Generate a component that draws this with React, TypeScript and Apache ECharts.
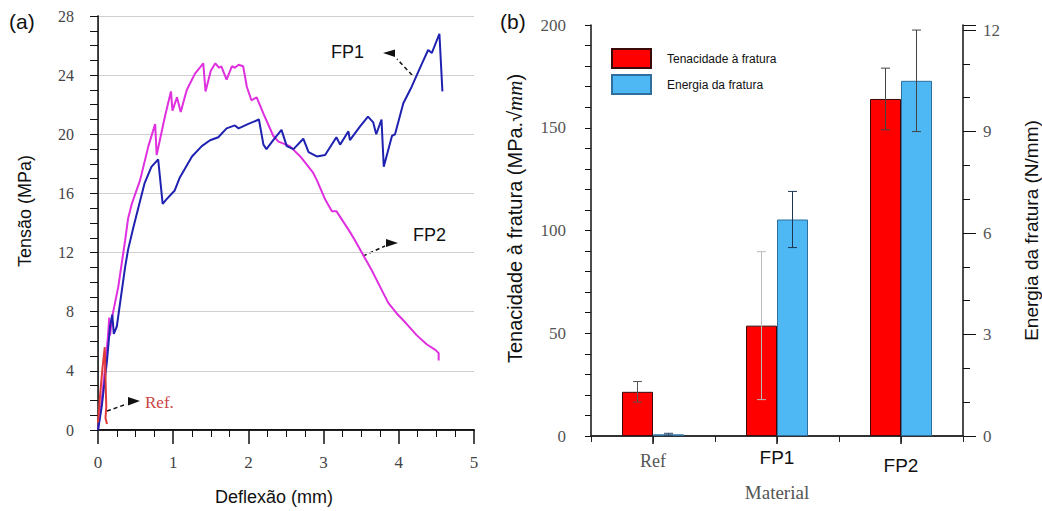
import React, { useEffect, useRef } from "react";
import * as echarts from "echarts";

// ---------- Panel (a): Tensão x Deflexão ----------
const fp1Deflexao = [0, 0.05, 0.12, 0.16, 0.19, 0.21, 0.25, 0.36, 0.4, 0.47, 0.56, 0.62, 0.71, 0.8, 0.86, 0.91, 1.02, 1.09, 1.25, 1.38, 1.49, 1.6, 1.71, 1.82, 1.87, 2.0, 2.14, 2.2, 2.24, 2.33, 2.44, 2.51, 2.6, 2.73, 2.8, 2.91, 3.02, 3.17, 3.22, 3.33, 3.35, 3.48, 3.59, 3.66, 3.7, 3.77, 3.8, 3.91, 3.95, 4.06, 4.17, 4.3, 4.39, 4.44, 4.54, 4.58];
const fp1Tensao = [0, 1.6, 4.7, 7.0, 7.8, 6.5, 7.0, 11.0, 12.2, 13.7, 15.5, 16.7, 17.8, 18.3, 15.3, 15.6, 16.2, 17.1, 18.5, 19.2, 19.6, 19.8, 20.4, 20.6, 20.4, 20.7, 21.0, 19.3, 19.0, 19.6, 20.3, 19.2, 19.0, 19.7, 18.8, 18.5, 18.6, 19.8, 19.3, 20.2, 19.6, 20.5, 21.2, 20.8, 20.0, 21.0, 17.8, 19.9, 20.0, 22.1, 23.2, 24.7, 25.7, 25.5, 26.8, 22.9];

const fp2Deflexao = [0, 0.05, 0.1, 0.13, 0.15, 0.16, 0.19, 0.27, 0.36, 0.4, 0.45, 0.56, 0.67, 0.76, 0.78, 0.89, 0.97, 0.99, 1.05, 1.1, 1.18, 1.29, 1.4, 1.43, 1.5, 1.56, 1.61, 1.64, 1.71, 1.78, 1.82, 1.87, 1.93, 1.98, 2.04, 2.11, 2.2, 2.33, 2.4, 2.55, 2.69, 2.86, 2.91, 3.02, 3.11, 3.17, 3.35, 3.42, 3.53, 3.64, 3.75, 3.86, 3.97, 4.1, 4.24, 4.37, 4.49, 4.53, 4.53];
const fp2Tensao = [0, 2.0, 4.5, 6.2, 7.6, 6.4, 7.7, 9.7, 12.8, 14.3, 15.3, 16.9, 19.2, 20.7, 18.6, 21.2, 22.9, 21.6, 22.5, 21.5, 23.0, 24.1, 24.8, 22.9, 24.3, 24.8, 24.5, 24.6, 23.7, 24.6, 24.5, 24.7, 24.6, 23.2, 22.3, 22.5, 21.4, 19.9, 19.5, 19.2, 18.5, 17.4, 16.9, 15.6, 14.8, 14.8, 13.4, 12.8, 11.8, 10.8, 9.7, 8.6, 7.9, 7.2, 6.4, 5.8, 5.4, 5.2, 4.7];

const refDeflexao = [0, 0.03, 0.06, 0.09, 0.1, 0.11, 0.1, 0.12];
const refTensao = [0.5, 2.5, 4.2, 5.6, 3.5, 1.6, 0.8, 0.4];

// ---------- Panel (b): bars ----------
const materiais = ["Ref", "FP1", "FP2"];
const tenacidade = [21.5, 53.7, 164];
const tenacidadeErro = [5, 36, 15];
const energia = [0.05, 6.4, 10.5];
const energiaErro = [0.03, 0.83, 1.5];

const zip = (xs: number[], ys: number[]) => xs.map((x, i) => [x, ys[i]]);

const SANS = "Liberation Sans";
const SERIF = "Liberation Serif";

function errorBarSeries(values: number[], errors: number[], yAxisIndex: number, side: number, colors: string[]) {
  return {
    type: "custom",
    xAxisIndex: 2,
    yAxisIndex,
    z: 10,
    encode: { x: 0, y: [1, 2] },
    data: values.map((v, i) => [i, v - errors[i], v + errors[i]]),
    renderItem: (params: any, api: any) => {
      const idx = api.value(0);
      const lo = api.coord([idx, api.value(1)]);
      const hi = api.coord([idx, api.value(2)]);
      const band = api.size([1, 0])[0];
      const x = lo[0] + side * band * 0.125;
      const cap = 4.5;
      const style = { stroke: colors[params.dataIndex], lineWidth: 1 };
      return {
        type: "group",
        children: [
          { type: "line", shape: { x1: x, y1: lo[1], x2: x, y2: hi[1] }, style },
          { type: "line", shape: { x1: x - cap, y1: hi[1], x2: x + cap, y2: hi[1] }, style },
          { type: "line", shape: { x1: x - cap, y1: lo[1], x2: x + cap, y2: lo[1] }, style },
        ],
      };
    },
  };
}

export default function App() {
  const ref = useRef<HTMLDivElement>(null);

  useEffect(() => {
    if (!ref.current) return;
    const chart = echarts.init(ref.current, null, { renderer: "svg" });

    const option: any = {
      animation: false,
      backgroundColor: "#ffffff",
      grid: [
        { left: 98, top: 16, width: 376, height: 414 },
        { left: 591, top: 25, width: 374, height: 411 },
      ],
      legend: {
        data: ["Tenacidade à fratura", "Energia da fratura"],
        orient: "vertical",
        left: 611,
        top: 48,
        padding: 0,
        itemWidth: 39,
        itemHeight: 19,
        itemGap: 5,
        icon: "rect",
        textStyle: { fontSize: 12, fontFamily: SANS, color: "#111", padding: [0, 0, 0, 11] },
      },
      xAxis: [
        {
          gridIndex: 0,
          type: "value",
          min: 0,
          max: 5,
          interval: 1,
          axisLine: { show: true, lineStyle: { color: "#111", width: 2 } },
          axisTick: { show: true, length: 14, lineStyle: { color: "#111", width: 1.5 } },
          minorTick: { show: true, splitNumber: 4, length: 7, lineStyle: { color: "#111" } },
          axisLabel: { margin: 24, fontSize: 17, fontFamily: SERIF, color: "#444" },
          splitLine: { show: false },
          name: "Deflexão (mm)",
          nameLocation: "middle",
          nameGap: 58,
          nameTextStyle: { fontSize: 18, fontFamily: SANS, color: "#111", padding: [0, 24, 0, 0] },
        },
        {
          gridIndex: 0,
          type: "value",
          position: "top",
          min: 0,
          max: 5,
          axisLine: { show: true, lineStyle: { color: "#222", width: 1 } },
          axisTick: { show: false },
          axisLabel: { show: false },
          splitLine: { show: false },
        },
        {
          gridIndex: 1,
          type: "category",
          data: materiais,
          position: "bottom",
          axisLine: { show: true, lineStyle: { color: "#333", width: 1.5 } },
          axisTick: { show: true, alignWithLabel: true, length: 8, lineStyle: { color: "#111", width: 1.5 } },
          axisLabel: {
            margin: 12,
            formatter: (v: string) => (v === "Ref" ? `{r|${v}}` : v === "FP1" ? `{a|${v}}` : `{b|${v}}`),
            rich: {
              r: { fontFamily: SERIF, fontSize: 18, color: "#555", padding: [4, 0, 0, 0] },
              a: { fontFamily: SANS, fontSize: 19, color: "#111" },
              b: { fontFamily: SANS, fontSize: 19, color: "#111", padding: [8, 0, 0, 0] },
            },
          },
          name: "Material",
          nameLocation: "middle",
          nameGap: 47,
          nameTextStyle: { fontFamily: SERIF, fontSize: 19, color: "#555" },
        },
        {
          gridIndex: 1,
          type: "value",
          position: "top",
          min: 0,
          max: 3,
          interval: 0.5,
          axisLine: { show: true, lineStyle: { color: "#222", width: 1.5 } },
          axisTick: { show: true, inside: true, length: 6, lineStyle: { color: "#222" } },
          axisLabel: { show: false },
          splitLine: { show: false },
        },
      ],
      yAxis: [
        {
          gridIndex: 0,
          type: "value",
          min: 0,
          max: 28,
          interval: 4,
          axisLine: { show: true, lineStyle: { color: "#111", width: 1.5 } },
          axisTick: { show: true, length: 8, lineStyle: { color: "#111" } },
          minorTick: { show: true, splitNumber: 4, length: 8, lineStyle: { color: "#111" } },
          axisLabel: { margin: 24, fontSize: 16, fontFamily: SERIF, color: "#444" },
          splitLine: { show: true, lineStyle: { color: "#cfcfcf", width: 1 } },
          name: "Tensão (MPa)",
          nameLocation: "middle",
          nameGap: 64,
          nameTextStyle: { fontSize: 18, fontFamily: SANS, color: "#111", padding: [0, 0, 0, 24] },
        },
        {
          gridIndex: 0,
          type: "value",
          position: "right",
          min: 0,
          max: 28,
          axisLine: { show: true, lineStyle: { color: "#333", width: 1 } },
          axisTick: { show: false },
          axisLabel: { show: false },
          splitLine: { show: false },
        },
        {
          gridIndex: 1,
          type: "value",
          position: "left",
          min: 0,
          max: 200,
          interval: 50,
          axisLine: { show: true, lineStyle: { color: "#111", width: 1.5 } },
          axisTick: { show: true, length: 6, lineStyle: { color: "#111" } },
          minorTick: { show: true, splitNumber: 5, length: 6, lineStyle: { color: "#111" } },
          axisLabel: { margin: 25, fontSize: 17, fontFamily: SERIF, color: "#555" },
          splitLine: { show: false },
          name: "{a|Tenacidade à fratura (MPa.√}{b|mm}{a|)}",
          nameLocation: "middle",
          nameGap: 66,
          nameTextStyle: {
            padding: [0, 0, 0, 24],
            rich: {
              a: { fontSize: 20, fontFamily: SANS, color: "#111" },
              b: { fontSize: 21, fontFamily: SERIF, fontStyle: "italic", color: "#111" },
            },
          },
        },
        {
          gridIndex: 1,
          type: "value",
          position: "right",
          min: 0,
          max: 12.15,
          interval: 3,
          axisLine: { show: true, lineStyle: { color: "#111", width: 1.5 } },
          axisTick: { show: true, length: 13, lineStyle: { color: "#111" } },
          minorTick: { show: true, splitNumber: 3, length: 7, lineStyle: { color: "#111" } },
          axisLabel: { margin: 20, fontSize: 17, fontFamily: SERIF, color: "#555", showMaxLabel: false },
          splitLine: { show: false },
          name: "Energia da fratura (N/mm)",
          nameLocation: "middle",
          nameGap: 59,
          nameTextStyle: { fontSize: 19, fontFamily: SANS, color: "#111" },
        },
      ],
      series: [
        {
          type: "line",
          name: "FP2",
          xAxisIndex: 0,
          yAxisIndex: 0,
          data: zip(fp2Deflexao, fp2Tensao),
          showSymbol: false,
          lineStyle: { color: "#df2fdf", width: 2 },
          itemStyle: { color: "#df2fdf" },
        },
        {
          type: "line",
          name: "FP1",
          xAxisIndex: 0,
          yAxisIndex: 0,
          data: zip(fp1Deflexao, fp1Tensao),
          showSymbol: false,
          lineStyle: { color: "#1f22b0", width: 2 },
          itemStyle: { color: "#1f22b0" },
        },
        {
          type: "line",
          name: "Ref.",
          xAxisIndex: 0,
          yAxisIndex: 0,
          data: zip(refDeflexao, refTensao),
          showSymbol: false,
          lineStyle: { color: "#e03a3a", width: 2 },
          itemStyle: { color: "#e03a3a" },
        },
        {
          type: "bar",
          name: "Tenacidade à fratura",
          xAxisIndex: 2,
          yAxisIndex: 2,
          data: tenacidade,
          barWidth: "25%",
          barGap: "0%",
          itemStyle: { color: "#ff0000", borderColor: "#3a0a0a", borderWidth: 1 },
        },
        {
          type: "bar",
          name: "Energia da fratura",
          xAxisIndex: 2,
          yAxisIndex: 3,
          data: energia,
          barWidth: "25%",
          barGap: "0%",
          itemStyle: { color: "#4db8f4", borderColor: "#2f6f9f", borderWidth: 1 },
        },
        errorBarSeries(tenacidade, tenacidadeErro, 2, -1, ["#555", "#bbbbbb", "#444"]),
        errorBarSeries(energia, energiaErro, 3, 1, ["#2a4a6a", "#1f3550", "#444"]),
      ],
      graphic: [
        { type: "text", x: 9, y: 21, style: { text: "(a)", fontSize: 21, fontFamily: SANS, fill: "#111", verticalAlign: "middle" } },
        { type: "text", x: 500, y: 21, style: { text: "(b)", fontSize: 21, fontFamily: SANS, fill: "#111", verticalAlign: "middle" } },
        { type: "text", x: 331, y: 52, style: { text: "FP1", fontSize: 18, fontFamily: SANS, fill: "#111", verticalAlign: "middle" } },
        { type: "text", x: 413, y: 235, style: { text: "FP2", fontSize: 18, fontFamily: SANS, fill: "#111", verticalAlign: "middle" } },
        { type: "text", x: 145, y: 402, style: { text: "Ref.", fontSize: 17, fontFamily: SERIF, fill: "#cc4444", verticalAlign: "middle" } },
        { type: "line", shape: { x1: 412, y1: 75, x2: 397, y2: 59 }, style: { stroke: "#111", lineWidth: 1.5, lineDash: [4, 3] } },
        { type: "polygon", shape: { points: [[383, 53], [395, 49.5], [395, 57]] }, style: { fill: "#111" } },
        { type: "line", shape: { x1: 363, y1: 256, x2: 385, y2: 246 }, style: { stroke: "#111", lineWidth: 1.5, lineDash: [4, 3] } },
        { type: "polygon", shape: { points: [[398, 243], [386, 239], [386, 247]] }, style: { fill: "#111" } },
        { type: "line", shape: { x1: 107, y1: 411, x2: 127, y2: 404 }, style: { stroke: "#111", lineWidth: 1.5, lineDash: [4, 3] } },
        { type: "polygon", shape: { points: [[140, 401], [128, 397], [128, 405.5]] }, style: { fill: "#111" } },
      ],
    };

    chart.setOption(option);
    return () => chart.dispose();
  }, []);

  return (
    <div
      ref={ref}
      style={{ position: "absolute", left: 0, top: 0, width: 1042, height: 511, background: "#fff" }}
    />
  );
}
